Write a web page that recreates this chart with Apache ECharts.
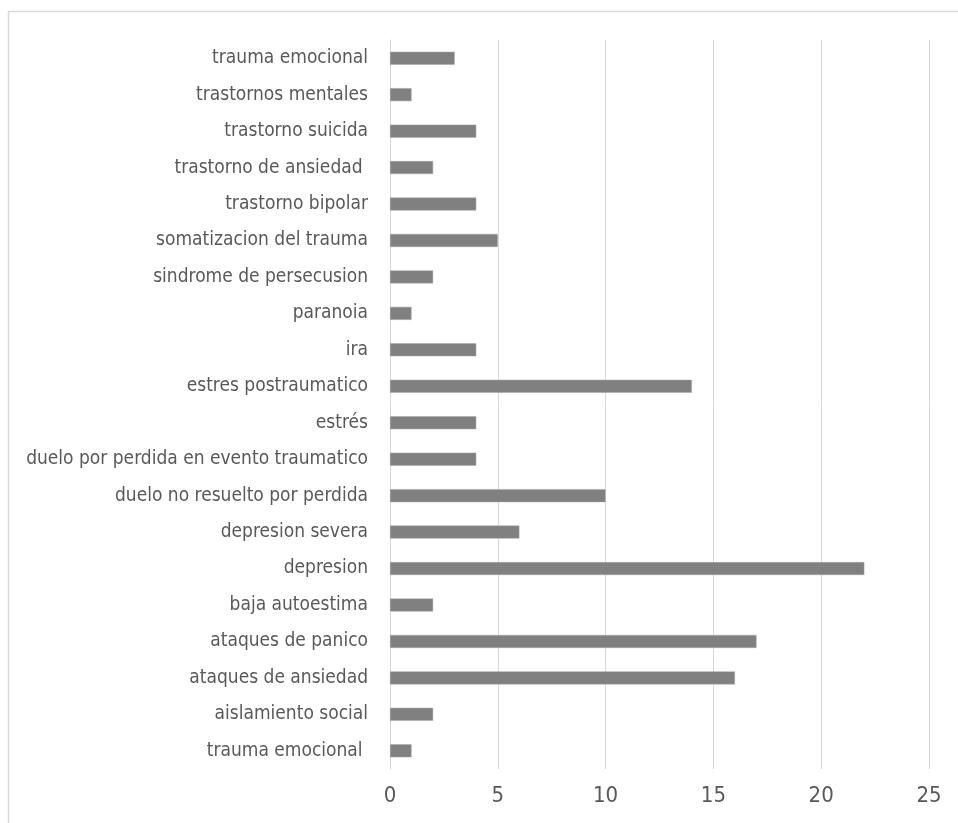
<!DOCTYPE html>
<html>
<head>
<meta charset="utf-8">
<script src="https://cdn.jsdelivr.net/npm/echarts@6/dist/echarts.min.js"></script>
<style>
  html, body { margin: 0; padding: 0; background: #fff; }
  #main { width: 958px; height: 823px; }
</style>
</head>
<body>
<div id="main"></div>
<script>
// categories bottom -> top, as in the original
const categories = [
  "trauma emocional ",
  "aislamiento social",
  "ataques de ansiedad",
  "ataques de panico",
  "baja autoestima",
  "depresion",
  "depresion severa",
  "duelo no resuelto por perdida",
  "duelo por perdida en evento traumatico",
  "estrés",
  "estres postraumatico",
  "ira",
  "paranoia",
  "sindrome de persecusion",
  "somatizacion del trauma",
  "trastorno bipolar",
  "trastorno de ansiedad ",
  "trastorno suicida",
  "trastornos mentales",
  "trauma emocional"
]
const values = [1, 2, 16, 17, 2, 22, 6, 10, 4, 4, 14, 4, 1, 2, 5, 4, 2, 4, 1, 3]
const xTicks = { min: 0, max: 25, interval: 5 }

const labelFont = "'Liberation Sans Narrow', 'DejaVu Sans Condensed', Roboto, sans-serif"

const chartDom = document.getElementById("main")
const myChart = echarts.init(chartDom)

const option = {
  animation: false,
  graphic: [
    {
      type: "rect",
      shape: { x: 8.5, y: 11.5, width: 1000, height: 900 },
      style: { fill: "none", stroke: "#d9d9d9", lineWidth: 1.5 },
      silent: true
    }
  ],
  grid: {
    left: 390,
    right: 29,
    top: 40,
    bottom: 54,
    containLabel: false
  },
  xAxis: {
    type: "value",
    min: xTicks.min,
    max: xTicks.max,
    interval: xTicks.interval,
    axisLine: { show: false },
    axisTick: { show: false },
    splitLine: { lineStyle: { color: "#d9d9d9", width: 1 } },
    axisLabel: {
      color: "#595959",
      fontFamily: labelFont,
      fontWeight: 300,
      fontSize: 22,
      margin: 16
    }
  },
  yAxis: {
    type: "category",
    data: categories,
    axisLine: { show: true, lineStyle: { color: "#d9d9d9", width: 1 } },
    axisTick: { show: false },
    axisLabel: {
      color: "#595959",
      fontFamily: labelFont,
      fontWeight: 300,
      fontSize: 19,
      margin: 22
    }
  },
  series: [
    {
      type: "bar",
      data: values,
      barWidth: 13,
      itemStyle: { color: "#808080", borderColor: "#a6a6a6", borderWidth: 0.5 }
    }
  ]
}

option && myChart.setOption(option)
</script>
</body>
</html>
